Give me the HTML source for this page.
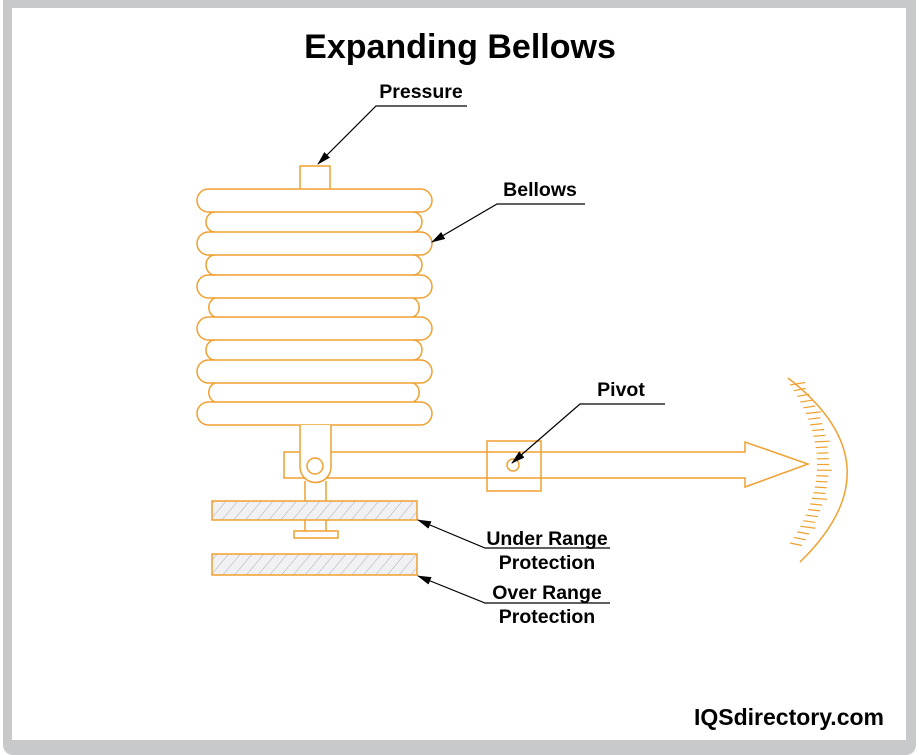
<!DOCTYPE html>
<html><head><style>body{margin:0;background:#fff}svg{display:block}</style></head><body>
<svg width="919" height="755" viewBox="0 0 919 755" xmlns="http://www.w3.org/2000/svg">
<defs>
<pattern id="h" width="9" height="9" patternUnits="userSpaceOnUse" patternTransform="rotate(40)">
<rect width="9" height="9" fill="#f1f1f4"/><line x1="0" y1="0" x2="0" y2="9" stroke="#a9a9c0" stroke-width="1"/>
</pattern>
<marker id="a" markerWidth="14" markerHeight="8" refX="13" refY="4" orient="auto" markerUnits="userSpaceOnUse"><path d="M0,0 L14,4 L0,8 Z" fill="#000"/></marker>
</defs>
<rect x="3" y="-10" width="913" height="765" rx="10" fill="#c8c9cb"/>
<rect x="12" y="8" width="894" height="732" fill="#fff"/>
<text x="460" y="58" text-anchor="middle" font-family="Liberation Sans, sans-serif" font-weight="bold" font-size="34" fill="#000">Expanding Bellows</text>
<g fill="none" stroke="#f0a030" stroke-width="1.5">
<path d="M300,189 V166 H330 V189"/>
<rect x="197" y="189" width="235" height="23" rx="11.5" fill="#fff"/>
<rect x="197" y="232" width="235" height="23" rx="11.5" fill="#fff"/>
<rect x="197" y="275" width="235" height="23" rx="11.5" fill="#fff"/>
<rect x="197" y="317" width="235" height="23" rx="11.5" fill="#fff"/>
<rect x="197" y="360" width="235" height="23" rx="11.5" fill="#fff"/>
<rect x="197" y="402" width="235" height="23" rx="11.5" fill="#fff"/>
<path d="M215,212 A9,10 0 0 0 215,232 M215,255 A9,10 0 0 0 215,275 M215,298 A9,10 0 0 0 215,317 M215,340 A9,10 0 0 0 215,360 M215,383 A9,10 0 0 0 215,402"/>
<path d="M413,212 A9,10 0 0 1 413,232 M413,255 A9,10 0 0 1 413,275 M413,298 A9,10 0 0 1 413,317 M413,340 A9,10 0 0 1 413,360 M413,383 A9,10 0 0 1 413,402"/>
<path d="M300,452 H284 V478 H300"/>
<path d="M300,452 H745 V442 L808,464 L745,487 V478 H300"/>
<path d="M300,425 V467 A15.5,15.5 0 0 0 331,467 V425" fill="#fff"/>
<circle cx="315" cy="466" r="8"/>
<rect x="487" y="441" width="54" height="50" fill="#fff"/>
<path d="M487,452 H541 M487,478 H541"/>
<circle cx="513" cy="465" r="6" fill="#fff"/>
<path d="M305,481 V501 M326,481 V501 M305,520 V531 M326,520 V531"/>
<rect x="212" y="501" width="205" height="19" fill="url(#h)"/>
<rect x="294" y="531" width="44" height="7"/>
<rect x="212" y="554" width="205" height="21" fill="url(#h)"/>
<path d="M788,378 Q900,465 800,562"/>
</g>
<g stroke="#f0a030" stroke-width="1.2" id="t"></g>
<script>
var g=document.getElementById('t');for(var i=0;i<=28;i++){var t=i/28;var x=(1-t)*(1-t)*790+2*t*(1-t)*844+t*t*790;var y=(1-t)*(1-t)*385+2*t*(1-t)*465+t*t*543;var l=document.createElementNS('http://www.w3.org/2000/svg','line');l.setAttribute('x1',x);l.setAttribute('y1',y);l.setAttribute('x2',x+(i%5==0?15:12));l.setAttribute('y2',y+(t-0.5)*5);g.appendChild(l);}
</script>
<g stroke="#000" stroke-width="1.2" fill="none">
<path d="M467,106 H376 L318,164" marker-end="url(#a)"/>
<path d="M585,204 H497 L432,242" marker-end="url(#a)"/>
<path d="M665,404 H580 L512,463" marker-end="url(#a)"/>
<path d="M610,548 H485 L418,520" marker-end="url(#a)"/>
<path d="M610,603 H485 L418,576" marker-end="url(#a)"/>
</g>
<g font-family="Liberation Sans, sans-serif" font-weight="bold" font-size="19.5" fill="#000" text-anchor="middle">
<text x="421" y="98">Pressure</text>
<text x="540" y="196">Bellows</text>
<text x="621" y="396">Pivot</text>
<text x="547" y="545">Under Range</text>
<text x="547" y="569">Protection</text>
<text x="547" y="599">Over Range</text>
<text x="547" y="623">Protection</text>
</g>
<text x="884" y="725" text-anchor="end" font-family="Liberation Sans, sans-serif" font-weight="bold" font-size="23" fill="#000">IQSdirectory.com</text>
</svg>
</body></html>
